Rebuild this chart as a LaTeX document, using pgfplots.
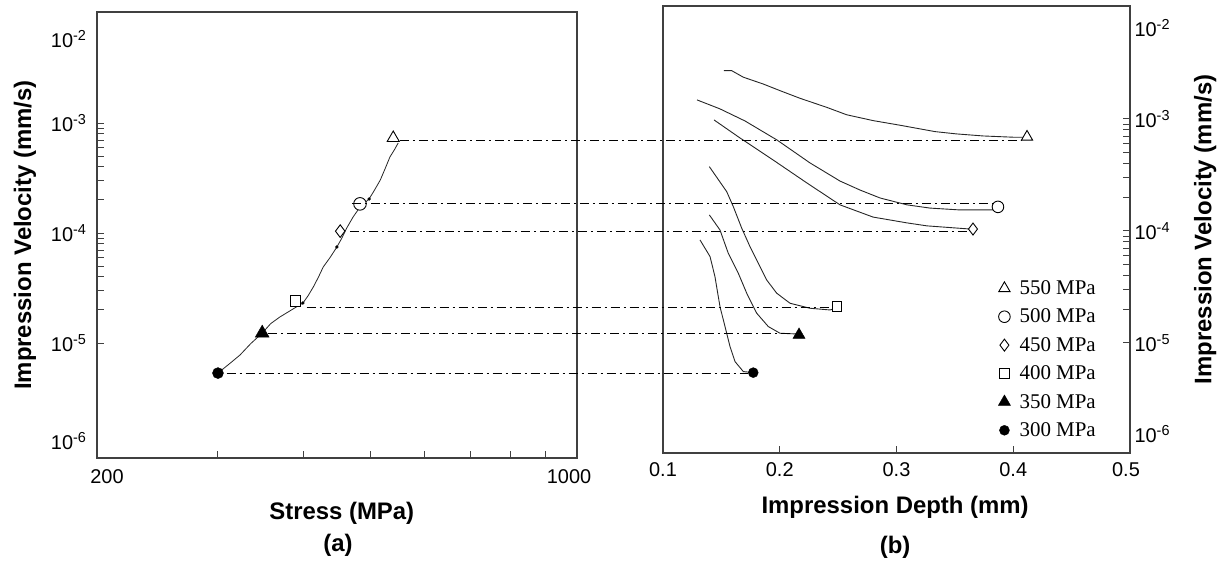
\documentclass[border=0pt]{standalone}
\usepackage{fontspec}
\setmainfont{Liberation Sans}
\newfontfamily\legfont{Liberation Serif}
\usepackage{pgfplots}
\usetikzlibrary{calc}
\pgfplotsset{compat=1.18}
\newcommand\ex[1]{10\textsuperscript{\fontsize{14.5}{15}\selectfont #1}}
\tikzset{
  dd/.style={line width=0.9bp, black, dash pattern=on 9bp off 4bp on 2bp off 4bp},
  crv/.style={line width=0.9bp, black!85},
}
\pgfplotsset{
  common/.style={
    scale only axis, anchor=south west,
    tick align=inside, major tick length=7bp, minor tick length=7bp,
    axis line style={line width=1.1bp, draw=black!75},
    tick style={line width=1bp, draw=black!75},
    ticklabel style={font=\fontsize{20}{23}\selectfont},
    label style={font=\fontsize{24}{27}\selectfont\bfseries},
    extra y tick style={major tick length=0pt},
  },
}
\begin{document}
\begin{tikzpicture}
\useasboundingbox (0,0) rectangle (1220bp,562bp);
% ---------------- (a) ----------------
\begin{axis}[common,
  at={(97bp,104bp)}, width=480bp, height=446bp,
  xmode=log, ymode=log,
  xmin=200, xmax=1000, ymin=9.01e-7, ymax=1.021e-2,
  xtick pos=lower, ytick pos=lower,
  xtick={200,1000}, xticklabels={\hspace*{20bp}200, 1000\hspace*{16bp}},
  minor xtick={300,400,500,600,700,800,900},
  ytick={1e-5,1e-4,1e-3},
  yticklabels={\ex{-5},\ex{-4},\ex{-3}},
  extra y ticks={1.29e-6,5.8e-3},
  extra y tick labels={\ex{-6},\ex{-2}},
  yticklabel style={xshift=-7bp},
  xticklabel style={yshift=-8bp},
  xlabel={Stress (MPa)},
  xlabel style={at={(axis description cs:0.51,-0.123)}, anchor=center},
  ylabel={Impression Velocity (mm/s)},
  ylabel style={at={(axis description cs:-0.15,0.5)}, anchor=center},
  after end axis/.code={\node[font=\fontsize{24}{26}\selectfont\bfseries] at (axis description cs:0.502,-0.195) {(a)};},
]
\addplot[crv, line width=0.8bp] table {
300 5.33e-6
312 6.5e-6
323 7.78e-6
335 9.9e-6
348 1.23e-5
358 1.50e-5
369 1.72e-5
385 2.02e-5
399 2.31e-5
406 2.70e-5
413 3.23e-5
420 3.95e-5
427 4.91e-5
437 6.0e-5
447 7.46e-5
455 9.1e-5
462 1.11e-4
472 1.40e-4
483 1.72e-4
498 2.04e-4
507 2.45e-4
517 3.03e-4
526 3.90e-4
534 4.91e-4
542 5.70e-4
549 6.58e-4
};
\addplot[only marks, mark=*, mark size=1.5bp, black] coordinates {(399,2.31e-5) (447,7.46e-5) (498,2.04e-4)};
\addplot[only marks, mark=triangle*, mark size=7bp, mark options={fill=white, draw=black, line width=0.9bp}] coordinates {(540,7.31e-4)};
\addplot[only marks, mark=*, mark size=6.3bp, mark options={fill=white, draw=black, line width=0.9bp}] coordinates {(483,1.84e-4)};
\addplot[only marks, mark=diamond*, mark size=6.3bp, mark options={fill=white, draw=black, line width=0.9bp}] coordinates {(452,1.04e-4)};
\addplot[only marks, mark=square*, mark size=5.2bp, mark options={fill=white, draw=black, line width=0.9bp}] coordinates {(389,2.41e-5)};
\addplot[only marks, mark=triangle*, mark size=8bp, mark options={fill=black, draw=black}] coordinates {(348,1.23e-5)};
\addplot[only marks, mark=*, mark size=5.5bp, mark options={fill=black, draw=black}] coordinates {(300,5.33e-6)};
\coordinate (L1) at (axis cs:552,7.00e-4);
\coordinate (L2) at (axis cs:470,1.84e-4);
\coordinate (L3) at (axis cs:467,1.04e-4);
\coordinate (L4) at (axis cs:404,2.12e-5);
\coordinate (L5) at (axis cs:355,1.21e-5);
\coordinate (L6) at (axis cs:309,5.33e-6);
\end{axis}
% ---------------- (b) ----------------
\begin{axis}[common,
  at={(663bp,109bp)}, width=467bp, height=447bp,
  ymode=log, clip=false,
  xmin=0.1, xmax=0.5, ymin=1.04e-6, ymax=1.02e-2,
  xtick pos=lower, ytick pos=upper, yticklabel pos=upper,
  xtick={0.1,0.2,0.3,0.4,0.5}, xticklabels={0.1,0.2,0.3,0.4,0.5\hspace*{8bp}},
  ytick={1e-5,1e-4,1e-3},
  yticklabels={\ex{-5},\ex{-4},\ex{-3}},
  extra y ticks={1.54e-6,6.49e-3},
  extra y tick labels={\ex{-6},\ex{-2}},
  yticklabel style={xshift=1bp},
  xticklabel style={yshift=-6bp},
  xlabel={Impression Depth (mm)},
  xlabel style={at={(axis description cs:0.497,-0.121)}, anchor=center},
  ylabel={Impression Velocity (mm/s)},
  ylabel style={at={(axis description cs:1.161,0.5)}, anchor=center},
  legend style={at={(axis description cs:0.711,0.395)}, anchor=north west, draw=none, fill=none,
    font=\legfont\fontsize{21}{23}\selectfont, row sep=9bp, cells={anchor=west}},
  legend image code/.code={\path (0bp,0bp) (19bp,0bp); \draw[#1, mark repeat=2, mark phase=2] plot coordinates {(0bp,0bp) (6bp,0bp) (19bp,0bp)};},
  after end axis/.code={\node[font=\fontsize{24}{26}\selectfont\bfseries] at (axis description cs:0.497,-0.210) {(b)};},
]
\coordinate (R1) at (axis cs:0.4118,6.91e-4);
\coordinate (R2) at (axis cs:0.3869,1.64e-4);
\coordinate (R3) at (axis cs:0.3655,1.04e-4);
\coordinate (R4) at (axis cs:0.2490,2.11e-5);
\coordinate (R5) at (axis cs:0.2165,1.18e-5);
\coordinate (R6) at (axis cs:0.1773,5.43e-6);
% 550 MPa
\addplot[crv, forget plot] table {
0.1522 2.70e-3
0.1588 2.70e-3
0.1688 2.36e-3
0.1859 2.05e-3
0.2002 1.79e-3
0.2173 1.53e-3
0.2402 1.27e-3
0.2573 1.09e-3
0.2801 9.66e-4
0.3030 8.79e-4
0.3330 7.71e-4
0.3516 7.35e-4
0.3743 7.05e-4
0.4015 6.86e-4
0.4118 6.86e-4
};
% 500 MPa
\addplot[crv, forget plot] table {
0.1291 1.48e-3
0.1488 1.23e-3
0.1702 9.60e-4
0.1976 6.49e-4
0.2259 4.05e-4
0.2516 2.79e-4
0.2687 2.32e-4
0.2859 1.97e-4
0.3090 1.71e-4
0.3287 1.60e-4
0.3544 1.54e-4
0.3869 1.54e-4
};
% 450 MPa
\addplot[crv, forget plot] table {
0.1437 9.80e-4
0.1660 6.76e-4
0.1942 4.31e-4
0.2233 2.68e-4
0.2516 1.71e-4
0.2799 1.33e-4
0.3090 1.18e-4
0.3261 1.11e-4
0.3630 1.04e-4
};
% 400 MPa
\addplot[crv, forget plot] table {
0.1397 3.75e-4
0.1546 2.24e-4
0.1602 1.65e-4
0.1674 1.06e-4
0.1745 7.24e-5
0.1816 5.15e-5
0.1888 3.65e-5
0.1974 2.78e-5
0.2088 2.26e-5
0.2259 2.04e-5
0.2430 1.97e-5
0.2490 2.05e-5
};
% 350 MPa
\addplot[crv, forget plot] table {
0.1397 1.39e-4
0.1488 1.02e-4
0.1559 6.32e-5
0.1645 4.19e-5
0.1717 2.78e-5
0.1803 1.84e-5
0.1902 1.40e-5
0.2002 1.22e-5
0.2165 1.20e-5
};
% 300 MPa
\addplot[crv, forget plot] table {
0.1317 8.31e-5
0.1403 5.90e-5
0.1445 3.91e-5
0.1488 2.11e-5
0.1531 1.40e-5
0.1574 9.27e-6
0.1617 6.81e-6
0.1688 5.55e-6
0.1773 5.43e-6
};
\addplot[only marks, mark=triangle*, mark size=6.5bp, mark options={fill=white, draw=black, line width=0.9bp}] coordinates {(0.4118,6.91e-4)};
\addlegendentry{550 MPa}
\addplot[only marks, mark=*, mark size=5.8bp, mark options={fill=white, draw=black, line width=0.9bp}] coordinates {(0.3869,1.64e-4)};
\addlegendentry{500 MPa}
\addplot[only marks, mark=diamond*, mark size=6bp, mark options={fill=white, draw=black, line width=0.9bp}] coordinates {(0.3655,1.04e-4)};
\addlegendentry{450 MPa}
\addplot[only marks, mark=square*, mark size=4.8bp, mark options={fill=white, draw=black, line width=0.9bp}] coordinates {(0.2490,2.11e-5)};
\addlegendentry{400 MPa}
\addplot[only marks, mark=triangle*, mark size=7bp, mark options={fill=black, draw=black}] coordinates {(0.2165,1.18e-5)};
\addlegendentry{350 MPa}
\addplot[only marks, mark=*, mark size=5bp, mark options={fill=black, draw=black}] coordinates {(0.1773,5.43e-6)};
\addlegendentry{300 MPa}
\end{axis}
% dash-dot connectors from (a) to (b)
\draw[dd] (L1) -- ($(L1 -| R1)+(-6bp,0)$);
\draw[dd] (L2) -- ($(L2 -| R2)+(-6bp,0)$);
\draw[dd] (L3) -- ($(L3 -| R3)+(-5bp,0)$);
\draw[dd] (L4) -- ($(L4 -| R4)+(-5bp,0)$);
\draw[dd] (L5) -- ($(L5 -| R5)+(-6bp,0)$);
\draw[dd] (L6) -- ($(L6 -| R6)+(-5bp,0)$);
\end{tikzpicture}
\end{document}
